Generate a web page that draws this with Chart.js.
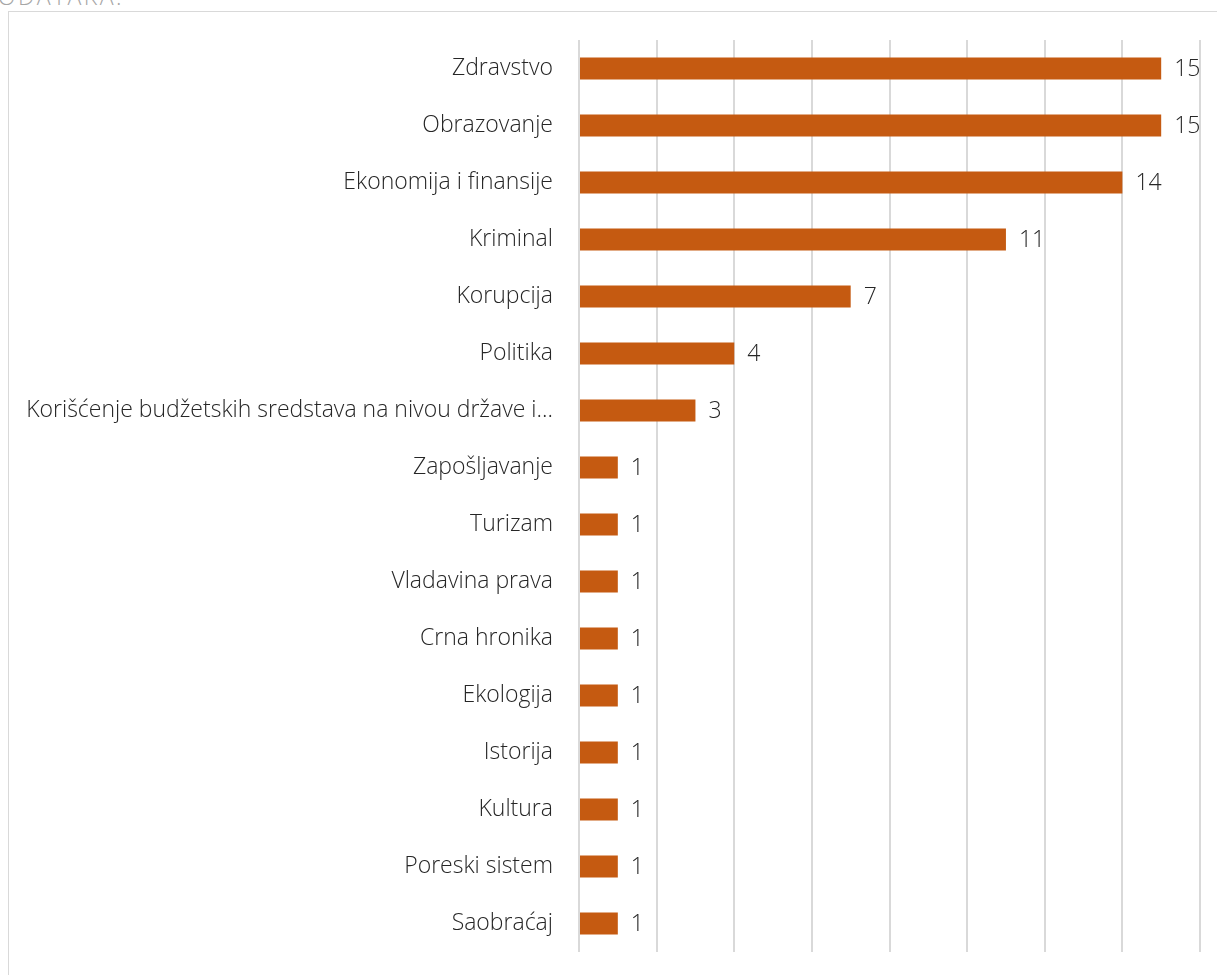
<!DOCTYPE html>
<html>
<head>
<meta charset="utf-8">
<script src="https://cdn.jsdelivr.net/npm/chart.js@4/dist/chart.umd.min.js"></script>
<style>
  html, body { margin: 0; padding: 0; background: #ffffff; overflow: hidden; }
  #page { position: relative; width: 1217px; height: 975px; overflow: hidden; }
  #heading {
    position: absolute; right: 1093px; top: -20px;
    font-family: "Open Sans", sans-serif; font-weight: 300; font-size: 23px; letter-spacing: 2.5px;
    color: #a6a6a6; white-space: nowrap; text-align: right;
  }
  #frame {
    position: absolute; left: 8px; top: 11px; width: 1300px; height: 1100px;
    border-left: 1px solid #d9d9d9; border-top: 1px solid #d9d9d9;
  }
  #chart { position: absolute; left: 0; top: 0; }
</style>
</head>
<body>
<div id="page">
  <div id="heading">PODATAKA:</div>
  <div id="frame"></div>
  <canvas id="chart" width="1217" height="975"></canvas>
</div>
<script>
// Topics and number of articles per topic
const categories = [
  "Zdravstvo",
  "Obrazovanje",
  "Ekonomija i finansije",
  "Kriminal",
  "Korupcija",
  "Politika",
  "Korišćenje budžetskih sredstava na nivou države i…",
  "Zapošljavanje",
  "Turizam",
  "Vladavina prava",
  "Crna hronika",
  "Ekologija",
  "Istorija",
  "Kultura",
  "Poreski sistem",
  "Saobraćaj"
];
const counts = [15, 15, 14, 11, 7, 4, 3, 1, 1, 1, 1, 1, 1, 1, 1, 1];
const axisMax = 16;
const axisStep = 2;

const textFont = "Open Sans";
const textSize = 23;

// Writes each bar's value just past its end
const valueLabels = {
  id: "valueLabels",
  afterDatasetsDraw(chart) {
    const ctx = chart.ctx;
    const meta = chart.getDatasetMeta(0);
    ctx.save();
    ctx.font = '300 ' + textSize + 'px "' + textFont + '", sans-serif';
    ctx.fillStyle = "#262626";
    ctx.textAlign = "left";
    ctx.textBaseline = "middle";
    meta.data.forEach((bar, i) => {
      ctx.fillText(String(counts[i]), bar.x + 13, bar.y + 1);
    });
    ctx.restore();
  }
};

new Chart(document.getElementById("chart"), {
  type: "bar",
  data: {
    labels: categories,
    datasets: [{
      data: counts,
      backgroundColor: "#c55a11",
      borderWidth: 0,
      barPercentage: 0.385,
      categoryPercentage: 1.0
    }]
  },
  options: {
    indexAxis: "y",
    responsive: false,
    animation: false,
    layout: { padding: { top: 40, bottom: 23, left: 0, right: 17 } },
    plugins: { legend: { display: false }, tooltip: { enabled: false } },
    scales: {
      x: {
        min: 0,
        max: axisMax,
        ticks: { display: false, stepSize: axisStep },
        grid: { color: "#d9d9d9", lineWidth: 2, drawTicks: false },
        border: { display: false },
        afterFit(scale) {
          scale.height = 0;
          scale.paddingLeft = 0;
          scale.paddingRight = 0;
        }
      },
      y: {
        grid: { display: false, drawTicks: false },
        border: { display: false },
        ticks: {
          color: "#262626",
          padding: 26,
          font: { family: textFont, size: textSize, weight: 300 },
          autoSkip: false
        },
        afterFit(scale) {
          scale.width = 579;
          scale.paddingTop = 0;
          scale.paddingBottom = 0;
        }
      }
    }
  },
  plugins: [valueLabels]
});
</script>
</body>
</html>
